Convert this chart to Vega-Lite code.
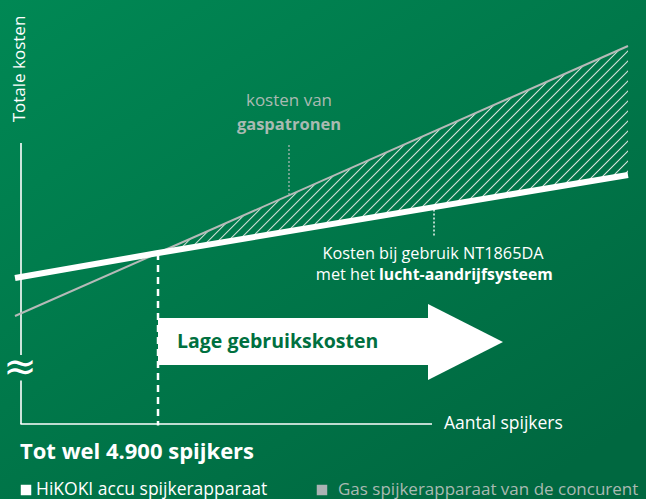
{
  "$schema": "https://vega.github.io/schema/vega-lite/v6.json",
  "width": 646,
  "height": 499,
  "autosize": {"type": "fit", "contains": "padding"},
  "padding": 0,
  "background": "#007a4a",
  "config": {"view": {"stroke": null}, "font": "Open Sans"},
  "encoding": {
    "x": {"field": "x", "type": "quantitative", "axis": null, "scale": {"domain": [-0.7, 20.8333], "nice": false, "zero": false}},
    "y": {"field": "y", "type": "quantitative", "axis": null, "scale": {"domain": [-2.5, 14.1333], "nice": false, "zero": false}}
  },
  "layer": [
    {
      "data": {"values": [{"x": -0.7, "x2": 20.8333, "y": -2.5, "y2": 14.1333}]},
      "mark": {"type": "rect", "clip": true, "fill": {"gradient": "linear", "x1": 0, "y1": 0, "x2": 0.8, "y2": 1, "stops": [{"offset": 0, "color": "#008854"}, {"offset": 1, "color": "#006840"}]}},
      "encoding": {"x2": {"field": "x2"}, "y2": {"field": "y2"}}
    },
    {
      "data": {"values": [{"x": 4.567, "y": 5.7, "y2": 5.7}, {"x": 20.233, "y": 12.6, "y2": 8.3}]},
      "mark": {"type": "area", "fill": {"gradient": "linear", "x1": 0, "y1": 0, "x2": 1.1, "y2": 0.484, "stops": [
        {"offset": 0.3300, "color": "rgba(215,225,220,0)"}, {"offset": 0.3322, "color": "rgba(215,225,220,1)"}, {"offset": 0.3345, "color": "rgba(215,225,220,0)"},
        {"offset": 0.3462, "color": "rgba(215,225,220,0)"}, {"offset": 0.3484, "color": "rgba(215,225,220,1)"}, {"offset": 0.3507, "color": "rgba(215,225,220,0)"},
        {"offset": 0.3624, "color": "rgba(215,225,220,0)"}, {"offset": 0.3646, "color": "rgba(215,225,220,1)"}, {"offset": 0.3669, "color": "rgba(215,225,220,0)"},
        {"offset": 0.3786, "color": "rgba(215,225,220,0)"}, {"offset": 0.3808, "color": "rgba(215,225,220,1)"}, {"offset": 0.3831, "color": "rgba(215,225,220,0)"},
        {"offset": 0.3948, "color": "rgba(215,225,220,0)"}, {"offset": 0.3970, "color": "rgba(215,225,220,1)"}, {"offset": 0.3993, "color": "rgba(215,225,220,0)"},
        {"offset": 0.4110, "color": "rgba(215,225,220,0)"}, {"offset": 0.4132, "color": "rgba(215,225,220,1)"}, {"offset": 0.4155, "color": "rgba(215,225,220,0)"},
        {"offset": 0.4272, "color": "rgba(215,225,220,0)"}, {"offset": 0.4294, "color": "rgba(215,225,220,1)"}, {"offset": 0.4317, "color": "rgba(215,225,220,0)"},
        {"offset": 0.4434, "color": "rgba(215,225,220,0)"}, {"offset": 0.4456, "color": "rgba(215,225,220,1)"}, {"offset": 0.4479, "color": "rgba(215,225,220,0)"},
        {"offset": 0.4596, "color": "rgba(215,225,220,0)"}, {"offset": 0.4618, "color": "rgba(215,225,220,1)"}, {"offset": 0.4641, "color": "rgba(215,225,220,0)"},
        {"offset": 0.4758, "color": "rgba(215,225,220,0)"}, {"offset": 0.4780, "color": "rgba(215,225,220,1)"}, {"offset": 0.4803, "color": "rgba(215,225,220,0)"},
        {"offset": 0.4920, "color": "rgba(215,225,220,0)"}, {"offset": 0.4942, "color": "rgba(215,225,220,1)"}, {"offset": 0.4965, "color": "rgba(215,225,220,0)"},
        {"offset": 0.5082, "color": "rgba(215,225,220,0)"}, {"offset": 0.5104, "color": "rgba(215,225,220,1)"}, {"offset": 0.5127, "color": "rgba(215,225,220,0)"},
        {"offset": 0.5244, "color": "rgba(215,225,220,0)"}, {"offset": 0.5266, "color": "rgba(215,225,220,1)"}, {"offset": 0.5289, "color": "rgba(215,225,220,0)"},
        {"offset": 0.5406, "color": "rgba(215,225,220,0)"}, {"offset": 0.5428, "color": "rgba(215,225,220,1)"}, {"offset": 0.5451, "color": "rgba(215,225,220,0)"},
        {"offset": 0.5568, "color": "rgba(215,225,220,0)"}, {"offset": 0.5590, "color": "rgba(215,225,220,1)"}, {"offset": 0.5613, "color": "rgba(215,225,220,0)"},
        {"offset": 0.5730, "color": "rgba(215,225,220,0)"}, {"offset": 0.5752, "color": "rgba(215,225,220,1)"}, {"offset": 0.5775, "color": "rgba(215,225,220,0)"},
        {"offset": 0.5892, "color": "rgba(215,225,220,0)"}, {"offset": 0.5914, "color": "rgba(215,225,220,1)"}, {"offset": 0.5937, "color": "rgba(215,225,220,0)"},
        {"offset": 0.6054, "color": "rgba(215,225,220,0)"}, {"offset": 0.6076, "color": "rgba(215,225,220,1)"}, {"offset": 0.6099, "color": "rgba(215,225,220,0)"},
        {"offset": 0.6216, "color": "rgba(215,225,220,0)"}, {"offset": 0.6238, "color": "rgba(215,225,220,1)"}, {"offset": 0.6261, "color": "rgba(215,225,220,0)"},
        {"offset": 0.6378, "color": "rgba(215,225,220,0)"}, {"offset": 0.6400, "color": "rgba(215,225,220,1)"}, {"offset": 0.6423, "color": "rgba(215,225,220,0)"},
        {"offset": 0.6540, "color": "rgba(215,225,220,0)"}, {"offset": 0.6562, "color": "rgba(215,225,220,1)"}, {"offset": 0.6585, "color": "rgba(215,225,220,0)"},
        {"offset": 0.6702, "color": "rgba(215,225,220,0)"}, {"offset": 0.6724, "color": "rgba(215,225,220,1)"}, {"offset": 0.6747, "color": "rgba(215,225,220,0)"},
        {"offset": 0.6864, "color": "rgba(215,225,220,0)"}, {"offset": 0.6886, "color": "rgba(215,225,220,1)"}, {"offset": 0.6909, "color": "rgba(215,225,220,0)"},
        {"offset": 0.7026, "color": "rgba(215,225,220,0)"}, {"offset": 0.7048, "color": "rgba(215,225,220,1)"}, {"offset": 0.7071, "color": "rgba(215,225,220,0)"},
        {"offset": 0.7188, "color": "rgba(215,225,220,0)"}, {"offset": 0.7210, "color": "rgba(215,225,220,1)"}, {"offset": 0.7233, "color": "rgba(215,225,220,0)"},
        {"offset": 0.7350, "color": "rgba(215,225,220,0)"}, {"offset": 0.7372, "color": "rgba(215,225,220,1)"}, {"offset": 0.7395, "color": "rgba(215,225,220,0)"},
        {"offset": 0.7512, "color": "rgba(215,225,220,0)"}, {"offset": 0.7534, "color": "rgba(215,225,220,1)"}, {"offset": 0.7557, "color": "rgba(215,225,220,0)"},
        {"offset": 0.7674, "color": "rgba(215,225,220,0)"}, {"offset": 0.7696, "color": "rgba(215,225,220,1)"}, {"offset": 0.7719, "color": "rgba(215,225,220,0)"},
        {"offset": 0.7836, "color": "rgba(215,225,220,0)"}, {"offset": 0.7858, "color": "rgba(215,225,220,1)"}, {"offset": 0.7881, "color": "rgba(215,225,220,0)"},
        {"offset": 0.7998, "color": "rgba(215,225,220,0)"}, {"offset": 0.8020, "color": "rgba(215,225,220,1)"}, {"offset": 0.8043, "color": "rgba(215,225,220,0)"},
        {"offset": 0.8160, "color": "rgba(215,225,220,0)"}, {"offset": 0.8182, "color": "rgba(215,225,220,1)"}, {"offset": 0.8205, "color": "rgba(215,225,220,0)"},
        {"offset": 0.8322, "color": "rgba(215,225,220,0)"}, {"offset": 0.8344, "color": "rgba(215,225,220,1)"}, {"offset": 0.8367, "color": "rgba(215,225,220,0)"},
        {"offset": 0.8484, "color": "rgba(215,225,220,0)"}, {"offset": 0.8506, "color": "rgba(215,225,220,1)"}, {"offset": 0.8529, "color": "rgba(215,225,220,0)"},
        {"offset": 0.8646, "color": "rgba(215,225,220,0)"}, {"offset": 0.8668, "color": "rgba(215,225,220,1)"}, {"offset": 0.8691, "color": "rgba(215,225,220,0)"},
        {"offset": 0.8808, "color": "rgba(215,225,220,0)"}, {"offset": 0.8830, "color": "rgba(215,225,220,1)"}, {"offset": 0.8853, "color": "rgba(215,225,220,0)"},
        {"offset": 0.8970, "color": "rgba(215,225,220,0)"}, {"offset": 0.8992, "color": "rgba(215,225,220,1)"}, {"offset": 0.9015, "color": "rgba(215,225,220,0)"},
        {"offset": 0.9132, "color": "rgba(215,225,220,0)"}, {"offset": 0.9154, "color": "rgba(215,225,220,1)"}, {"offset": 0.9177, "color": "rgba(215,225,220,0)"},
        {"offset": 0.9294, "color": "rgba(215,225,220,0)"}, {"offset": 0.9316, "color": "rgba(215,225,220,1)"}, {"offset": 0.9339, "color": "rgba(215,225,220,0)"},
        {"offset": 0.9456, "color": "rgba(215,225,220,0)"}, {"offset": 0.9478, "color": "rgba(215,225,220,1)"}, {"offset": 0.9501, "color": "rgba(215,225,220,0)"},
        {"offset": 0.9618, "color": "rgba(215,225,220,0)"}, {"offset": 0.9640, "color": "rgba(215,225,220,1)"}, {"offset": 0.9663, "color": "rgba(215,225,220,0)"},
        {"offset": 0.9780, "color": "rgba(215,225,220,0)"}, {"offset": 0.9802, "color": "rgba(215,225,220,1)"}, {"offset": 0.9825, "color": "rgba(215,225,220,0)"}
      ]}},
      "encoding": {"y2": {"field": "y2"}}
    },
    {
      "data": {"values": [{"x": 0, "y": 9.367, "x2": 0, "y2": 2.3}, {"x": 0, "y": 1.45, "x2": 0, "y2": 0}, {"x": -0.02, "y": 0, "x2": 13.7, "y2": 0}]},
      "mark": {"type": "rule", "color": "#ffffff", "strokeWidth": 1.6},
      "encoding": {"x2": {"field": "x2"}, "y2": {"field": "y2"}}
    },
    {
      "data": {"values": [{"x": 8.933, "y": 9.3, "y2": 7.65}]},
      "mark": {"type": "rule", "color": "#b5bcb9", "strokeWidth": 1.2, "strokeDash": [2, 2]},
      "encoding": {"y2": {"field": "y2"}}
    },
    {
      "data": {"values": [{"x": 13.767, "y": 7.15, "y2": 6.233}]},
      "mark": {"type": "rule", "color": "#ffffff", "strokeWidth": 1.4, "strokeDash": [2, 2]},
      "encoding": {"y2": {"field": "y2"}}
    },
    {
      "data": {"values": [{"x": 4.567, "y": 5.7, "y2": -0.05}]},
      "mark": {"type": "rule", "color": "#ffffff", "strokeWidth": 2.5, "strokeDash": [7, 5]},
      "encoding": {"y2": {"field": "y2"}}
    },
    {
      "data": {"values": [{"x": -0.2, "y": 3.6}, {"x": 4.567, "y": 5.7}, {"x": 20.233, "y": 12.6}]},
      "mark": {"type": "line", "color": "#b5bab8", "strokeWidth": 2},
      "encoding": {}
    },
    {
      "data": {"values": [{"x": -0.2, "y": 4.867}, {"x": 4.567, "y": 5.7}, {"x": 20.233, "y": 8.3}]},
      "mark": {"type": "line", "color": "#ffffff", "strokeWidth": 6, "strokeCap": "butt"},
      "encoding": {}
    },
    {
      "data": {"values": [{"x": 4.567, "x2": 13.633, "y": 3.533, "y2": 1.967}]},
      "mark": {"type": "rect", "color": "#ffffff"},
      "encoding": {"x2": {"field": "x2"}, "y2": {"field": "y2"}}
    },
    {
      "data": {"values": [{"x": 14.817, "y": 2.733}]},
      "mark": {"type": "point", "shape": "M-0.987,-1L0.987,0L-0.987,1Z", "size": 5776, "filled": true, "color": "#ffffff", "opacity": 1, "strokeWidth": 0}
    },
    {
      "data": {"values": [{"x": 5.2, "y": 2.733, "label": "Lage gebruikskosten"}]},
      "mark": {"type": "text", "align": "left", "baseline": "middle", "fontSize": 19.5, "fontWeight": "bold", "color": "#00703f"},
      "encoding": {"text": {"field": "label"}}
    },
    {
      "data": {"values": [{"x": -0.033, "y": 11.833, "label": "Totale kosten"}]},
      "mark": {"type": "text", "align": "center", "baseline": "middle", "angle": 270, "fontSize": 17, "color": "#ffffff"},
      "encoding": {"text": {"field": "label"}}
    },
    {
      "data": {"values": [{"x": -0.033, "y": 1.867, "label": "≈"}]},
      "mark": {"type": "text", "align": "center", "baseline": "middle", "fontSize": 40, "font": "DejaVu Sans", "fontWeight": "normal", "color": "#ffffff"},
      "encoding": {"text": {"field": "label"}}
    },
    {
      "data": {"values": [{"x": 8.933, "y": 10.767, "label": "kosten van"}]},
      "mark": {"type": "text", "align": "center", "baseline": "middle", "fontSize": 17, "color": "#a9bab2"},
      "encoding": {"text": {"field": "label"}}
    },
    {
      "data": {"values": [{"x": 8.933, "y": 9.967, "label": "gaspatronen"}]},
      "mark": {"type": "text", "align": "center", "baseline": "middle", "fontSize": 16.5, "fontWeight": "bold", "color": "#a9bab2"},
      "encoding": {"text": {"field": "label"}}
    },
    {
      "data": {"values": [{"x": 13.733, "y": 5.667, "label": "Kosten bij gebruik NT1865DA"}]},
      "mark": {"type": "text", "align": "center", "baseline": "middle", "fontSize": 16.3, "color": "#ffffff"},
      "encoding": {"text": {"field": "label"}}
    },
    {
      "data": {"values": [{"x": 11.8, "y": 4.967, "label": "met het"}]},
      "mark": {"type": "text", "align": "right", "baseline": "middle", "fontSize": 16.3, "color": "#ffffff"},
      "encoding": {"text": {"field": "label"}}
    },
    {
      "data": {"values": [{"x": 11.933, "y": 4.967, "label": "lucht-aandrijfsysteem"}]},
      "mark": {"type": "text", "align": "left", "baseline": "middle", "fontSize": 15.8, "fontWeight": "bold", "color": "#ffffff"},
      "encoding": {"text": {"field": "label"}}
    },
    {
      "data": {"values": [{"x": 14.1, "y": 0, "label": "Aantal spijkers"}, {"x": 0.5, "y": -2.2, "label": "HiKOKI accu spijkerapparaat"}]},
      "mark": {"type": "text", "align": "left", "baseline": "middle", "fontSize": 17.5, "color": "#ffffff"},
      "encoding": {"text": {"field": "label"}}
    },
    {
      "data": {"values": [{"x": 10.567, "y": -2.2, "label": "Gas spijkerapparaat van de concurent"}]},
      "mark": {"type": "text", "align": "left", "baseline": "middle", "fontSize": 17, "color": "#a9bab2"},
      "encoding": {"text": {"field": "label"}}
    },
    {
      "data": {"values": [{"x": -0.033, "y": -0.933, "label": "Tot wel 4.900 spijkers"}]},
      "mark": {"type": "text", "align": "left", "baseline": "middle", "fontSize": 22, "fontWeight": "bold", "color": "#ffffff"},
      "encoding": {"text": {"field": "label"}}
    },
    {
      "data": {"values": [{"x": 0.167, "y": -2.2}]},
      "mark": {"type": "point", "shape": "square", "size": 110, "filled": true, "opacity": 1, "color": "#ffffff"}
    },
    {
      "data": {"values": [{"x": 10.033, "y": -2.2}]},
      "mark": {"type": "point", "shape": "square", "size": 110, "filled": true, "opacity": 1, "color": "#aab3b4"}
    }
  ]
}
